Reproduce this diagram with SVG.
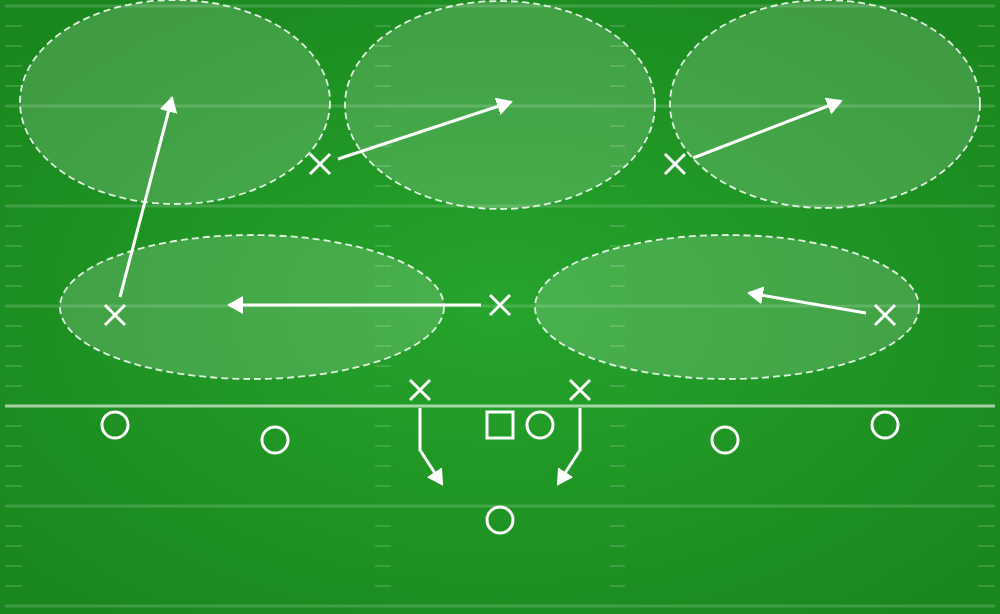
<svg xmlns="http://www.w3.org/2000/svg" width="1000" height="614" viewBox="0 0 1000 614">
<defs>
<radialGradient id="turf" cx="50%" cy="50%" r="65%">
<stop offset="0" stop-color="#26a42c"/>
<stop offset="1" stop-color="#1a871e"/>
</radialGradient>
<marker id="ah" markerUnits="userSpaceOnUse" markerWidth="18" markerHeight="20" refX="14" refY="9" orient="auto">
<path d="M0,0 L16,9 L0,18 z" fill="#ffffff"/>
</marker>
<style>
.yard{stroke:#ffffff;stroke-opacity:0.16;stroke-width:3}
.los{stroke:#ffffff;stroke-opacity:0.6;stroke-width:3}
.hash{stroke:#ffffff;stroke-opacity:0.14;stroke-width:2}
.zone{fill:#ffffff;fill-opacity:0.16;stroke:#ffffff;stroke-opacity:0.85;stroke-width:1.8;stroke-dasharray:7 4}
.pl{fill:none;stroke:#ffffff;stroke-width:3}
.route{fill:none;stroke:#ffffff;stroke-width:3;marker-end:url(#ah)}
</style>
<g id="hashset">
<line class="hash" x1="5" x2="22" y1="26" y2="26"/>
<line class="hash" x1="5" x2="22" y1="46" y2="46"/>
<line class="hash" x1="5" x2="22" y1="66" y2="66"/>
<line class="hash" x1="5" x2="22" y1="86" y2="86"/>
<line class="hash" x1="375" x2="391" y1="26" y2="26"/>
<line class="hash" x1="375" x2="391" y1="46" y2="46"/>
<line class="hash" x1="375" x2="391" y1="66" y2="66"/>
<line class="hash" x1="375" x2="391" y1="86" y2="86"/>
<line class="hash" x1="610" x2="625" y1="26" y2="26"/>
<line class="hash" x1="610" x2="625" y1="46" y2="46"/>
<line class="hash" x1="610" x2="625" y1="66" y2="66"/>
<line class="hash" x1="610" x2="625" y1="86" y2="86"/>
<line class="hash" x1="978" x2="995" y1="26" y2="26"/>
<line class="hash" x1="978" x2="995" y1="46" y2="46"/>
<line class="hash" x1="978" x2="995" y1="66" y2="66"/>
<line class="hash" x1="978" x2="995" y1="86" y2="86"/>
</g>
</defs>
<g id="field">
<rect x="0" y="0" width="1000" height="614" fill="url(#turf)"/>
<line class="yard" x1="5" x2="995" y1="6" y2="6"/>
<line class="yard" x1="5" x2="995" y1="106" y2="106"/>
<line class="yard" x1="5" x2="995" y1="206" y2="206"/>
<line class="yard" x1="5" x2="995" y1="306" y2="306"/>
<line class="yard" x1="5" x2="995" y1="506" y2="506"/>
<line class="yard" x1="5" x2="995" y1="606" y2="606"/>
<use href="#hashset"/>
<use href="#hashset" y="100"/>
<use href="#hashset" y="200"/>
<use href="#hashset" y="300"/>
<use href="#hashset" y="400"/>
<use href="#hashset" y="500"/>
<line class="los" x1="5" x2="995" y1="406" y2="406"/>
</g>
<g id="zones">
<ellipse id="zone-deep-left" class="zone" cx="175" cy="102" rx="155" ry="102"/>
<ellipse id="zone-deep-middle" class="zone" cx="500" cy="105" rx="155" ry="104"/>
<ellipse id="zone-deep-right" class="zone" cx="825" cy="104" rx="155" ry="104"/>
<ellipse id="zone-under-left" class="zone" cx="252" cy="307" rx="192" ry="72"/>
<ellipse id="zone-under-right" class="zone" cx="727" cy="307" rx="192" ry="72"/>
</g>
<g id="connectors">
<line class="route" x1="120" y1="297" x2="172" y2="98"/>
<line class="route" x1="338" y1="159" x2="511" y2="102"/>
<line class="route" x1="693" y1="158" x2="841" y2="101"/>
<line class="route" x1="481" y1="305" x2="229" y2="305"/>
<line class="route" x1="866" y1="313" x2="749" y2="293"/>
<polyline class="route" points="420,408 420,450 442,484"/>
<polyline class="route" points="580,408 580,450 558,484"/>
</g>
<g id="defense">
<g id="x1"><path class="pl" d="M310,154 L330,174 M330,154 L310,174"/></g>
<g id="x2"><path class="pl" d="M665,154 L685,174 M685,154 L665,174"/></g>
<g id="x3"><path class="pl" d="M105,305 L125,325 M125,305 L105,325"/></g>
<g id="x4"><path class="pl" d="M490,295 L510,315 M510,295 L490,315"/></g>
<g id="x5"><path class="pl" d="M875,305 L895,325 M895,305 L875,325"/></g>
<g id="x6"><path class="pl" d="M410,380 L430,400 M430,380 L410,400"/></g>
<g id="x7"><path class="pl" d="M570,380 L590,400 M590,380 L570,400"/></g>
</g>
<g id="offense">
<g id="o1"><circle class="pl" cx="115" cy="425" r="13"/></g>
<g id="o2"><circle class="pl" cx="275" cy="440" r="13"/></g>
<g id="center"><rect class="pl" x="487" y="412" width="26" height="26"/></g>
<g id="o3"><circle class="pl" cx="540" cy="425" r="13"/></g>
<g id="o4"><circle class="pl" cx="725" cy="440" r="13"/></g>
<g id="o5"><circle class="pl" cx="885" cy="425" r="13"/></g>
<g id="o6"><circle class="pl" cx="500" cy="520" r="13"/></g>
</g>
</svg>
